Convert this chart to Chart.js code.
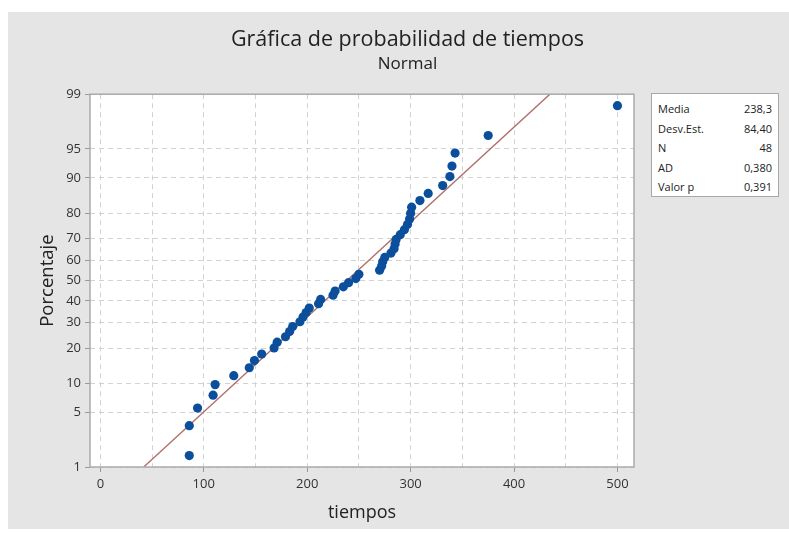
<!DOCTYPE html>
<html><head><meta charset="utf-8">
<script src="https://cdn.jsdelivr.net/npm/chart.js@4.4.1/dist/chart.umd.min.js"></script>
<style>
html,body{margin:0;padding:0;background:#fff;}
#wrap{position:relative;width:789px;height:533px;overflow:hidden;}
#bg{position:absolute;left:8px;top:12px;right:0;bottom:4px;background:#e5e5e5;}
canvas{position:absolute;left:0;top:0;}
#stats{position:absolute;left:651px;top:93px;width:128px;height:104px;box-sizing:border-box;border:1px solid #a8a8a8;background:#fff;font-family:"Open Sans",sans-serif;font-size:11px;color:#222;padding:5px 6px 0 6px;}
#stats .row{display:flex;justify-content:space-between;height:19.5px;line-height:19.5px;}
</style>
</head><body>
<div id="wrap"><div id="bg"></div><canvas id="c" width="789" height="533"></canvas><div id="stats"></div></div>
<script>
// ---- data ----
const tiempos = [86,86,94,109,111,129,144,149,156,168,171,179,183,186,193,196,199,202,211,213,225,227,235,240,247,250,270,272,273,275,281,284,285,286,290,294,297,299,300,301,309,317,331,338,340,343,375,500];
const porcentaje = [1.45,3.51,5.58,7.64,9.71,11.78,13.84,15.91,17.98,20.04,22.11,24.17,26.24,28.31,30.37,32.44,34.50,36.57,38.64,40.70,42.77,44.83,46.90,48.97,51.03,53.10,55.17,57.23,59.30,61.36,63.43,65.50,67.56,69.63,71.69,73.76,75.83,77.89,79.96,82.02,84.09,86.16,88.22,90.29,92.36,94.42,96.49,98.55];
const yTicks = [1,5,10,20,30,40,50,60,70,80,90,95,99];
const xTicks = [0,50,100,150,200,250,300,350,400,450,500];
const xLabels = [0,100,200,300,400,500];
const statNames = ["Media","Desv.Est.","N","AD","Valor p"];
const statValues = ["238,3","84,40","48","0,380","0,391"];
const media = 238.3, desvEst = 84.40;
const lineaPct = [1, 99];

function probit(p){
 const a=[-3.969683028665376e+01,2.209460984245205e+02,-2.759285104469687e+02,1.383577518672690e+02,-3.066479806614716e+01,2.506628277459239e+00];
 const b=[-5.447609879822406e+01,1.615858368580409e+02,-1.556989798598866e+02,6.680131188771972e+01,-1.328068155288572e+01];
 const c=[-7.784894002430293e-03,-3.223964580411365e-01,-2.400758277161838e+00,-2.549732539343734e+00,4.374664141464968e+00,2.938163982698783e+00];
 const d=[7.784695709041462e-03,3.224671290700398e-01,2.445134137142996e+00,3.754408661907416e+00];
 const pl=0.02425, ph=1-pl; let q,r;
 if(p<pl){q=Math.sqrt(-2*Math.log(p));return (((((c[0]*q+c[1])*q+c[2])*q+c[3])*q+c[4])*q+c[5])/((((d[0]*q+d[1])*q+d[2])*q+d[3])*q+1);}
 if(p>ph){q=Math.sqrt(-2*Math.log(1-p));return -(((((c[0]*q+c[1])*q+c[2])*q+c[3])*q+c[4])*q+c[5])/((((d[0]*q+d[1])*q+d[2])*q+d[3])*q+1);}
 q=p-0.5;r=q*q;return (((((a[0]*r+a[1])*r+a[2])*r+a[3])*r+a[4])*r+a[5])*q/(((((b[0]*r+b[1])*r+b[2])*r+b[3])*r+b[4])*r+1);
}

// stats box
document.getElementById('stats').innerHTML = statNames.map((n,i)=>'<div class="row"><span>'+n+'</span><span>'+statValues[i]+'</span></div>').join('');

const puntos = tiempos.map((t,i)=>({x:t, y:probit(porcentaje[i]/100)}));
const linea = lineaPct.map(p=>({x: media + desvEst*probit(p/100), y: probit(p/100)}));

const framePlugin = {
  id:'frame',
  beforeDraw(chart){
    const {ctx, chartArea:a} = chart;
    ctx.save(); ctx.fillStyle='#fff'; ctx.fillRect(a.left,a.top,a.right-a.left,a.bottom-a.top); ctx.restore();
  },
  afterDraw(chart){
    const {ctx, chartArea:a} = chart;
    ctx.save(); ctx.strokeStyle='#ababab'; ctx.lineWidth=1.5;
    ctx.strokeRect(a.left,a.top,a.right-a.left,a.bottom-a.top); ctx.restore();
  }
};

const FONT = '"Open Sans", sans-serif';
new Chart(document.getElementById('c'), {
  type:'scatter',
  data:{datasets:[
    {data:puntos, backgroundColor:'#0b4f9c', borderWidth:0, pointRadius:4.6, order:1},
    {data:linea, showLine:true, borderColor:'#b0706c', borderWidth:1.4, pointRadius:0, order:2}
  ]},
  options:{
    responsive:false, animation:false,
    layout:{padding:{left:26,right:0,top:0,bottom:0}},
    plugins:{
      legend:{display:false}, tooltip:{enabled:false},
      title:{display:true, text:'Gráfica de probabilidad de tiempos', color:'#222', font:{family:FONT,size:21.5,weight:'normal'}, padding:{top:27,bottom:0}},
      subtitle:{display:true, text:'Normal', color:'#222', font:{family:FONT,size:17,weight:'normal'}, padding:{top:1,bottom:20}}
    },
    scales:{
      x:{type:'linear', min:-10, max:516,
        afterBuildTicks(s){ s.ticks = xTicks.map(v=>({value:v})); },
        afterFit(s){ s.height = 66; },
        ticks:{autoSkip:false, maxRotation:0, color:'#333', font:{family:FONT,size:13}, padding:4,
          callback:(v)=> xLabels.includes(v) ? String(v) : ''},
        grid:{color:'#d2d2d2', lineWidth:1, tickLength:5, tickColor:(c)=> (c.tick && xLabels.includes(c.tick.value)) ? '#9a9a9a' : 'rgba(0,0,0,0)'},
        border:{display:false, dash:[5,4]},
        title:{display:true, text:'tiempos', color:'#222', font:{family:FONT,size:18}, padding:{top:0,bottom:9}}
      },
      y:{type:'linear', min:probit(0.01), max:probit(0.99),
        afterBuildTicks(s){ s.ticks = yTicks.map(p=>({value:probit(p/100)})); },
        afterFit(s){ s.width = 64; },
        ticks:{autoSkip:false, color:'#333', font:{family:FONT,size:13}, padding:4,
          callback:(v,i)=> String(yTicks[i])},
        grid:{color:'#d2d2d2', lineWidth:1, tickLength:5, tickColor:'#9a9a9a'},
        border:{display:false, dash:[5,4]},
        title:{display:true, text:'Porcentaje', color:'#222', font:{family:FONT,size:18.5}, padding:{top:11,bottom:0}}
      },
      yR:{type:'linear', position:'right', display:true,
        afterFit(s){ s.width = 155; },
        grid:{display:false}, ticks:{display:false}, border:{display:false}}
    }
  },
  plugins:[framePlugin]
});
</script>
</body></html>
